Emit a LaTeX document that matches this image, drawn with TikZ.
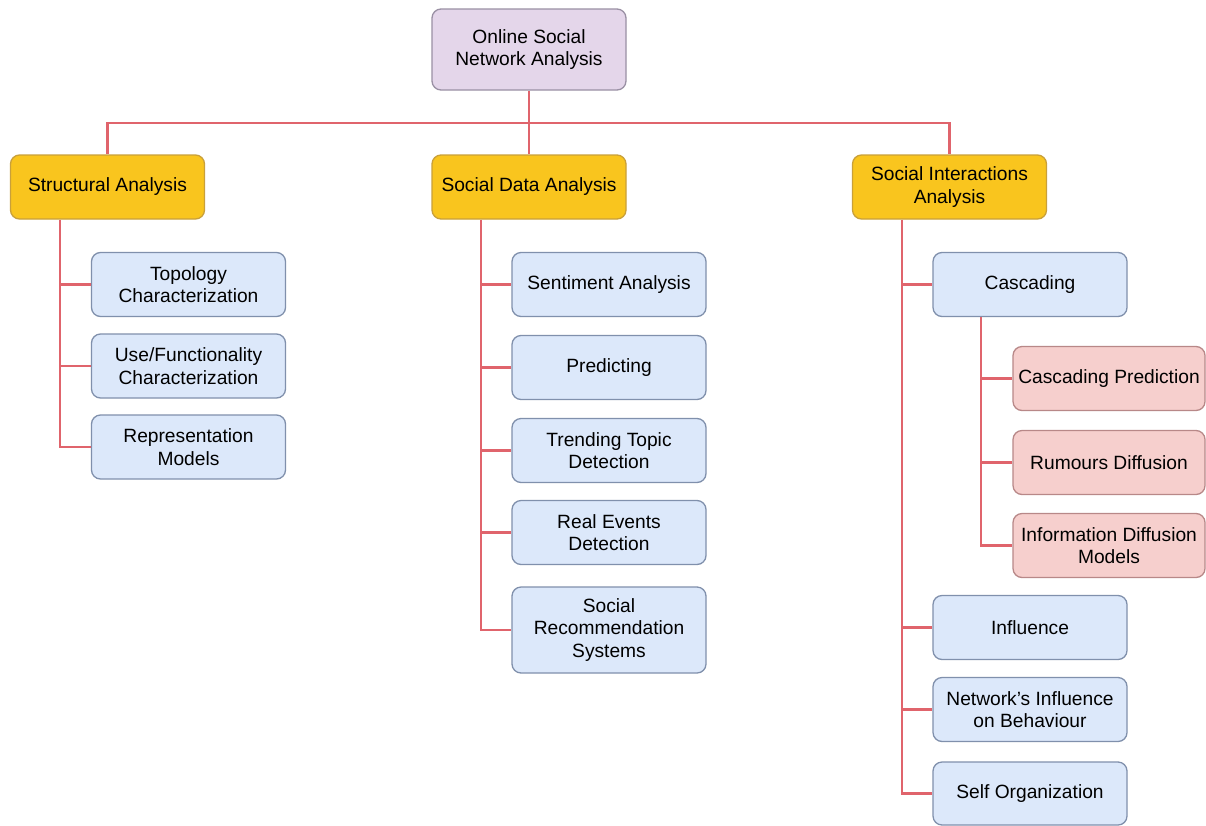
\documentclass[tikz,border=0pt]{standalone}
\usepackage{fontspec}
\setmainfont{Liberation Sans}
\begin{document}
\begin{tikzpicture}[x=1pt,y=-1pt,
  every node/.style={font=\fontsize{19.2}{22.5}\selectfont},
  box/.style={rounded corners=9pt, minimum width=194pt, minimum height=64pt, align=center, inner sep=0pt, line width=1.3pt},
  rootbox/.style={box, fill=rootfill, draw=rootdraw, minimum height=81pt},
  topbox/.style={box, fill=goldfill, draw=golddraw},
  bluebox/.style={box, fill=bluefill, draw=bluedraw},
  pinkbox/.style={box, fill=pinkfill, draw=pinkdraw, minimum width=192pt},
  link/.style={draw=linkred, line width=2.8pt}]
\definecolor{rootfill}{HTML}{E4D6EA}
\definecolor{rootdraw}{HTML}{9A90A4}
\definecolor{goldfill}{HTML}{F9C51E}
\definecolor{golddraw}{HTML}{C9A03A}
\definecolor{bluefill}{HTML}{DCE8FA}
\definecolor{bluedraw}{HTML}{8090AC}
\definecolor{pinkfill}{HTML}{F6CFCD}
\definecolor{pinkdraw}{HTML}{B88888}
\definecolor{linkred}{HTML}{E0646C}
\useasboundingbox (0,0) rectangle (1206,825);
\fill[white] (0,0) rectangle (1206,825);

\coordinate (bus) at (529,123);
\coordinate (t1) at (60,0);
\coordinate (t2) at (481,0);
\coordinate (t3) at (902,0);
\coordinate (t4) at (981,0);

\node[rootbox] (root) at (529,49.5) {Online Social\\Network Analysis};
\node[topbox] (sa) at (107.5,187) {Structural Analysis};
\node[topbox] (sd) at (529,187) {Social Data Analysis};
\node[topbox] (si) at (949.5,187) {Social Interactions\\Analysis};

\node[bluebox] (a1) at (188.5,284.5) {Topology\\Characterization};
\node[bluebox] (a2) at (188.5,366) {Use/Functionality\\Characterization};
\node[bluebox] (a3) at (188.5,447) {Representation\\Models};

\node[bluebox] (d1) at (609,284.5) {Sentiment Analysis};
\node[bluebox] (d2) at (609,367.5) {Predicting};
\node[bluebox] (d3) at (609,450.5) {Trending Topic\\Detection};
\node[bluebox] (d4) at (609,532.5) {Real Events\\Detection};
\node[bluebox, minimum height=86pt] (d5) at (609,630) {Social\\Recommendation\\Systems};

\node[bluebox] (i1) at (1030,284.5) {Cascading};
\node[bluebox] (i2) at (1030,627.5) {Influence};
\node[bluebox] (i3) at (1030,709.5) {Network's Influence\\on Behaviour};
\node[bluebox, minimum height=63pt] (i4) at (1030,793.5) {Self Organization};

\node[pinkbox] (c1) at (1109,378.5) {Cascading Prediction};
\node[pinkbox] (c2) at (1109,462.5) {Rumours Diffusion};
\node[pinkbox] (c3) at (1109,545.5) {Information Diffusion\\Models};

\draw[link] (root.south) -- (sd.north);
\draw[link] (sa.north) |- (bus) -| (si.north);

\draw[link] (sa.south -| t1) |- (a3.west);
\draw[link] (t1 |- a1.west) -- (a1.west);
\draw[link] (t1 |- a2.west) -- (a2.west);

\draw[link] (sd.south -| t2) |- (d5.west);
\foreach \n in {d1,d2,d3,d4} \draw[link] (t2 |- \n.west) -- (\n.west);

\draw[link] (si.south -| t3) |- (i4.west);
\foreach \n in {i1,i2,i3} \draw[link] (t3 |- \n.west) -- (\n.west);

\draw[link] (i1.south -| t4) |- (c3.west);
\foreach \n in {c1,c2} \draw[link] (t4 |- \n.west) -- (\n.west);
\end{tikzpicture}
\end{document}
